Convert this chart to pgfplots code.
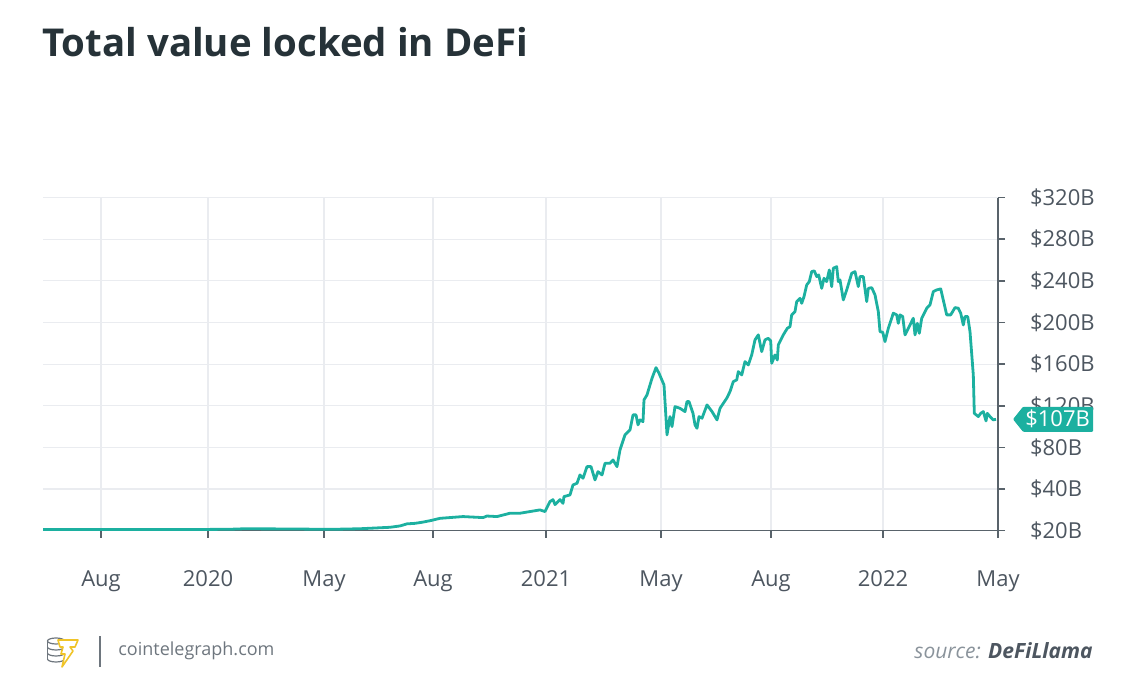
\documentclass[border=0pt]{standalone}
\usepackage{pgfplots}
\pgfplotsset{compat=1.18}
\usepackage{fontspec}
\setmainfont{Open Sans}
\definecolor{tealc}{RGB}{28,176,160}
\definecolor{titlec}{RGB}{38,50,56}
\definecolor{labc}{RGB}{77,86,96}
\definecolor{axisc}{RGB}{89,99,107}
\definecolor{gridc}{RGB}{234,236,240}
\definecolor{footc}{RGB}{110,118,126}
\definecolor{srcc}{RGB}{138,147,155}
\definecolor{boltc}{RGB}{240,196,40}
\begin{document}
\begin{tikzpicture}[x=0.5pt,y=0.5pt]
\path[use as bounding box] (0,0) rectangle (1140,694);
\node[anchor=base west, inner sep=0, text=titlec, font=\fontsize{19.2}{23}\selectfont\bfseries] at (42,637) {Total value locked in DeFi};
% footer logo
\begin{scope}[draw=footc, line width=0.6pt]
\draw (56,53) ellipse (8.5 and 3);
\draw (47.5,53) -- (47.5,35) (64.5,53) -- (64.5,35);
\draw (47.5,47) arc (180:360:8.5 and 3);
\draw (47.5,41) arc (180:360:8.5 and 3);
\draw (47.5,35) arc (180:360:8.5 and 3);
\end{scope}
\draw[boltc, fill=white, line width=0.8pt, line join=round] (58,54) -- (78,54) -- (75,47) -- (70,47) -- (73,43) -- (62,27) -- (65,40) -- (61,40) -- (63,47) -- (60,47) -- cycle;
\draw[footc, line width=0.6pt] (100,27) -- (100,58);
\node[anchor=west, inner sep=0, text=footc, font=\fontsize{9}{11}\selectfont] at (118,43) {cointelegraph.com};
\node[anchor=east, inner sep=0, font=\fontsize{10.5}{12}\selectfont] at (1093,43) {\textcolor{srcc}{\itshape source:} \textcolor{labc}{\bfseries\itshape DeFiLlama}};
\begin{axis}[
  at={(43,157)}, anchor=south west,
  width=477.5pt, height=166.5pt, scale only axis,
  xmin=43, xmax=998, ymin=0, ymax=320,
  axis x line*=bottom, axis y line*=right,
  axis line style={-, draw=axisc, line width=0.8pt},
  tick align=outside, major tick length=3.5pt,
  tick style={draw=axisc, line width=0.8pt},
  xtick={101,208,324,433,546,661,771,883,998},
  xticklabels={Aug,2020,May,Aug,2021,May,Aug,2022,May},
  ytick={0,40,80,120,160,200,240,280,320},
  yticklabels={\$20B,\$40B,\$80B,\$120B,\$160B,\$200B,\$240B,\$280B,\$320B},
  grid=major, major grid style={draw=gridc, line width=0.6pt},
  ticklabel style={text=labc, font=\fontsize{11}{13}\selectfont},
  yticklabel style={anchor=west, xshift=9pt},
  xticklabel style={yshift=-13pt},
  clip=false,
]
\addplot[tealc, line width=1.4pt, line join=round] coordinates {
(43,1.0)(100,1.0)(160,1.0)(200,1.1)(230,1.3)(245,1.8)(260,1.7)(290,1.6)(320,1.3)(340,1.4)
(360,1.8)(375,2.5)(390,3.2)(400,4.5)(407,6.5)(415,7.0)(422,8.0)(430,9.5)(440,11.8)(463,13.5)
(483,12.5)(487,14)(497,13.5)(510,16.7)(520,16.7)(540,19.9)(545,18.3)(550,27.9)(553,29.8)(555,25)
(560,29.8)(563,26.2)(564,32.7)(570,34.3)(573,43.9)(577,45.5)(580,53.5)(583,50.3)(587,61.5)(591,61.5)
(595,48.7)(598,56.7)(602,53.5)(605,64.7)(610,64.7)(613,67.9)(617,61.5)(620,77.6)(625,92)(630,96.8)
(633,111.2)(636,111.2)(638,101.6)(640,106.4)(643,104.7)(644,125.6)(647,130.4)(652,146.4)(656,156.6)(659,151.2)
(664,140)(667,92)(670,109.6)(672,100)(675,119.2)(680,117.5)(685,114.4)(687,124)(689,124)(693,112.7)
(695,101.6)(697,98.3)(699,109.6)(702,108)(707,120.8)(712,114.4)(717,106.4)(720,117.5)(726.7,127.2)(730,133.6)
(733.3,143.2)(736.7,144.8)(738.3,152.8)(741.7,149.6)(745,162.4)(748.3,159.2)(751.7,168.8)(755,183.3)(758.3,188.1)(761.7,172)
(765,183.3)(768.3,184.8)(770.7,182.3)(771.7,160.8)(775,168.8)(777.3,164)(778.3,178.4)(783.3,188.1)(787.3,194.4)(790,196)
(791.7,207.3)(795,210.5)(796.7,220.1)(800,223.2)(801.7,218.4)(804,224.9)(806.7,236.1)(809.3,239.3)(811.7,248.9)(814.3,249.6)
(816.7,244.1)(818.7,245.7)(821.7,232.8)(824,242.5)(826.7,239.3)(829.3,250.5)(831.7,234.5)(833.3,252.1)(836.7,253.7)(838.3,239.3)
(840,240.9)(843.3,221.7)(846.7,231.3)(851.7,247.3)(855,248.9)(858.3,234.5)(860,244.1)(863.3,244.1)(866.7,220.1)(868.3,232.8)
(871.7,233.5)(875,226.5)(878.3,210.5)(880,191.2)(882.7,190.6)(885,181.6)(888.3,194.4)(893.3,208.9)(896.7,207.3)(898.3,199.2)
(900,207.3)(902.7,205.7)(905,188.1)(908.3,194.4)(913.3,204.1)(915,188.1)(917.3,199.2)(919.3,189.6)(921.7,204.1)(926.7,213.7)
(930,216.9)(933.3,229.7)(936.7,231.3)(940.7,232.3)(946.7,207.3)(950.7,207.3)(955,214.3)(958.3,213.7)(960.7,208.9)(963.3,197.6)
(965,205.7)(967.7,205.7)(970,191.2)(973.3,149.6)(974.3,112.7)(978.3,109.6)(980.7,112.7)(983.3,114.4)(986,105.4)(987.3,112.7)
(990,109.6)(993.3,106.4)(996,107)
};
\coordinate (endp) at (axis cs:998,107);
\end{axis}
\begin{scope}[shift={(endp)}]
\fill[tealc, rounded corners=0.5pt] (7.5pt,0pt) -- (12.5pt,6.25pt) -- (47.5pt,6.25pt) -- (47.5pt,-6.25pt) -- (12.5pt,-6.25pt) -- cycle;
\node[text=white, inner sep=0, font=\fontsize{11}{13}\selectfont] at (29.8pt,0pt) {\$107B};
\end{scope}
\end{tikzpicture}
\end{document}
